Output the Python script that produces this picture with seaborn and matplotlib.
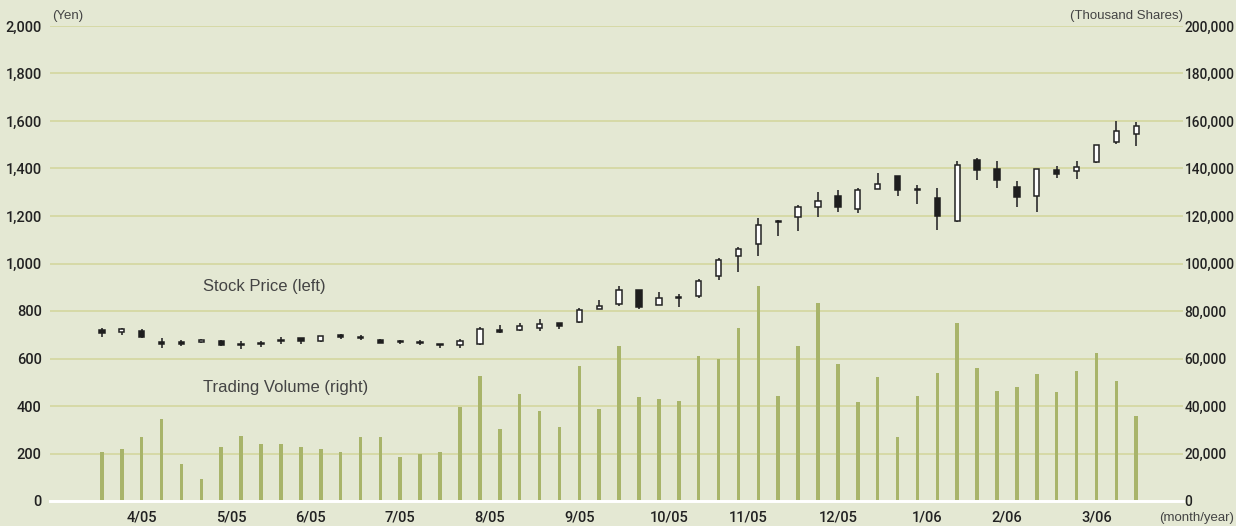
import numpy as np
import pandas as pd
import seaborn as sns
import matplotlib.pyplot as plt

# weekly data, late Mar 2005 - Mar 2006
month_labels = ["4/05", "5/05", "6/05", "7/05", "8/05", "9/05", "10/05",
                "11/05", "12/05", "1/06", "2/06", "3/06"]
weeks_in_month = [5, 4, 4, 5, 4, 5, 4, 4, 5, 4, 4, 5]

opens = [722, 710, 715, 671, 670, 668, 674, 660, 664, 678, 686, 672, 698,
         692, 680, 672, 670, 662, 657, 660, 720, 720, 730, 749, 752, 810,
         828, 888, 826, 858, 862, 948, 1030, 1084, 1180, 1196, 1240, 1284,
         1230, 1314, 1368, 1314, 1275, 1178, 1436, 1398, 1322, 1283, 1394,
         1388, 1428, 1512, 1545]
closes = [707, 726, 689, 662, 661, 680, 658, 656, 660, 672, 672, 694, 690,
          688, 666, 668, 666, 657, 675, 723, 710, 736, 744, 738, 805, 820,
          890, 818, 853, 853, 925, 1014, 1060, 1160, 1174, 1240, 1262, 1236,
          1308, 1336, 1310, 1309, 1202, 1414, 1394, 1350, 1280, 1398, 1378,
          1408, 1497, 1556, 1578]
highs = [728, 727, 723, 685, 677, 684, 680, 672, 672, 690, 688, 696, 704,
         700, 684, 678, 678, 662, 683, 734, 740, 750, 765, 750, 812, 848,
         905, 890, 880, 870, 934, 1022, 1068, 1190, 1184, 1246, 1300, 1310,
         1316, 1380, 1370, 1332, 1316, 1432, 1443, 1432, 1347, 1400, 1411,
         1432, 1498, 1600, 1594]
lows = [692, 700, 688, 646, 651, 666, 652, 640, 650, 660, 662, 670, 684,
        680, 664, 660, 656, 645, 645, 656, 709, 714, 714, 725, 750, 808,
        822, 808, 824, 815, 856, 930, 966, 1030, 1114, 1138, 1197, 1217,
        1212, 1312, 1286, 1250, 1140, 1176, 1350, 1317, 1238, 1217, 1360,
        1355, 1422, 1505, 1496]
volume = [20700, 21900, 26900, 34500, 15600, 9300, 22700, 27400, 24000,
          24000, 22700, 21900, 20600, 26900, 26900, 18500, 19800, 20700,
          39600, 52600, 30300, 45000, 37900, 31200, 56800, 38700, 65300,
          43800, 42900, 42100, 61000, 59800, 72800, 90500, 44200, 65300,
          83400, 57700, 41700, 52200, 26900, 44200, 53900, 75000, 56000,
          46300, 48000, 53500, 45900, 54700, 62300, 50500, 35800]

df = pd.DataFrame({"week": np.arange(len(opens)), "open": opens, "close": closes,
                   "high": highs, "low": lows, "volume": volume})

bg = "#e4e8d3"
grid_c = "#d5d8a3"
vol_c = "#a8b46a"

sns.set_theme(style="white")
plt.rcParams["font.family"] = ["Roboto", "DejaVu Sans"]

fig = plt.figure(figsize=(12.36, 5.26), dpi=100, facecolor=bg)
ax = fig.add_axes([50 / 1236, 25 / 526, 1133 / 1236, 475 / 526])
ax2 = ax.twinx()
ax.set_zorder(2)
ax.patch.set_visible(False)
ax2.set_zorder(1)
ax2.patch.set_facecolor(bg)

# volume bars (right axis)
sns.barplot(data=df, x="week", y="volume", ax=ax2, native_scale=True,
            color=vol_c, saturation=1, width=0.18, linewidth=0)
ax2.set_ylim(0, 200000)
ax2.set_yticks(np.arange(0, 200001, 20000))
ax2.set_yticklabels([f"{v:,}" for v in range(0, 200001, 20000)])
ax2.set_ylabel("")
ax2.set_xlabel("")

# candles (left axis)
ax.vlines(df["week"], df["low"], df["high"], color="#3a3a3a", lw=1.3, zorder=3)
up = df["close"] >= df["open"]
body = (df["close"] - df["open"]).abs().clip(lower=3)
bottom = df[["open", "close"]].min(axis=1)
ax.bar(df["week"][up], body[up], bottom=bottom[up], width=0.27,
       color="white", edgecolor="#222222", linewidth=1.1, zorder=4)
ax.bar(df["week"][~up], body[~up], bottom=bottom[~up], width=0.27,
       color="#1e1e1e", edgecolor="#1e1e1e", linewidth=1.1, zorder=4)

ax.set_ylim(0, 2000)
ax.set_yticks(np.arange(0, 2001, 200))
ax.set_yticklabels([f"{v:,}" for v in range(0, 2001, 200)])
for v in range(200, 2001, 200):
    ax2.axhline(v * 100, color=grid_c, lw=1.3, zorder=0)

# month ticks
bounds = np.concatenate([[0], np.cumsum(weeks_in_month)]) - 0.5
centers = (bounds[:-1] + bounds[1:]) / 2
ax.set_xlim(-2.61, 54.35)
ax.set_xticks(bounds)
ax.set_xticklabels([""] * len(bounds))
ax.set_xticks(centers, minor=True)
ax.set_xticklabels(month_labels, minor=True)
ax.tick_params(axis="x", which="major", direction="out", length=7, width=1.5,
               color="white", pad=0)
ax.tick_params(axis="x", which="minor", length=0, pad=7, labelsize=10.5,
               labelcolor="#222222")
ax.tick_params(axis="y", length=0, pad=6, labelsize=10.5, labelcolor="#222222")
ax2.tick_params(axis="y", length=0, pad=1, labelsize=9.8, labelcolor="#222222")
ax2.tick_params(axis="x", length=0, labelbottom=False)
for lab in ax.get_yticklabels() + ax2.get_yticklabels() + ax.get_xticklabels(minor=True):
    lab.set_fontweight("medium")

for a in (ax, ax2):
    for s in ["top", "left", "right"]:
        a.spines[s].set_visible(False)
    a.spines["bottom"].set_color("white")
    a.spines["bottom"].set_linewidth(2)

txt = dict(family=["Liberation Sans", "DejaVu Sans"], color="#444444")
ax.text(5.08, 903, "Stock Price (left)", fontsize=12, va="center", **txt)
ax.text(5.08, 476, "Trading Volume (right)", fontsize=12, va="center", **txt)
fig.text(52 / 1236, 1 - 16 / 526, "(Yen)", fontsize=9.5, va="center", **txt)
fig.text(1183 / 1236, 1 - 16 / 526, "(Thousand Shares)", fontsize=9.5,
         va="center", ha="right", **txt)
fig.text(1 - 2 / 1236, 1 - 518 / 526, "(month/year)", fontsize=9.5,
         va="center", ha="right", **txt)

fig.savefig("out.png", dpi=100, facecolor=bg)
